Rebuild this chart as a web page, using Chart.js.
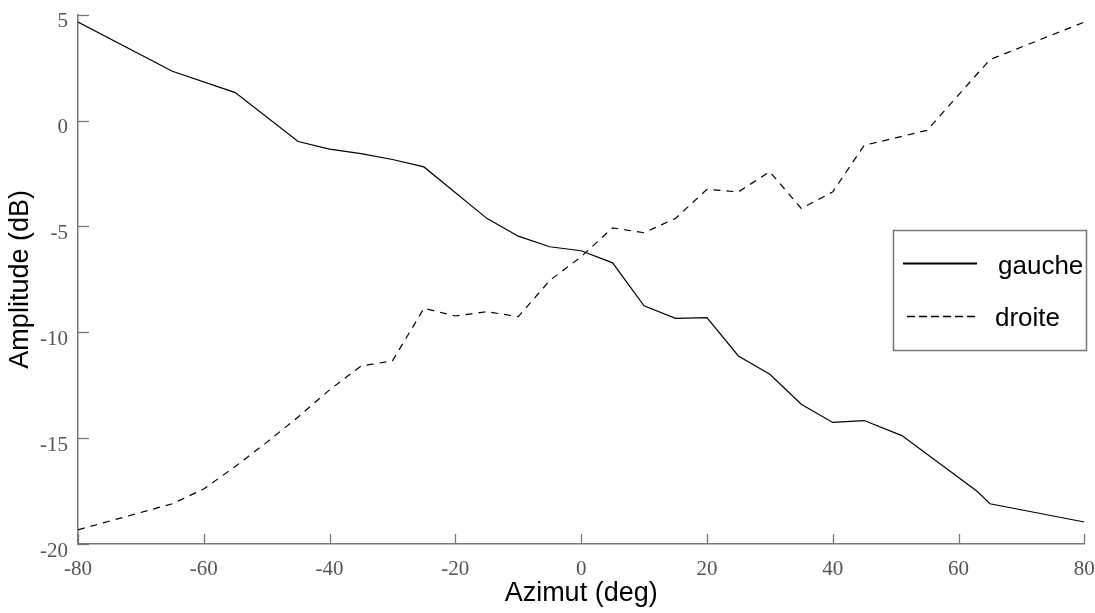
<!DOCTYPE html>
<html>
<head>
<meta charset="utf-8">
<script src="https://cdn.jsdelivr.net/npm/chart.js@4.4.1/dist/chart.umd.min.js"></script>
<style>
  html, body { margin: 0; padding: 0; background: #ffffff; }
  canvas { display: block; }
</style>
</head>
<body>
<canvas id="c" width="1095" height="613"></canvas>
<script>
// ---- data ----
const gaucheAzimut = [-80, -65, -55, -45, -40, -35, -30, -25, -15, -10, -5, 0, 5, 10, 15, 20, 25, 30, 35, 40, 45, 51, 63, 65, 80];
const gaucheDb     = [4.65, 2.33, 1.32, -0.99, -1.35, -1.56, -1.84, -2.19, -4.62, -5.46, -5.96, -6.15, -6.72, -8.75, -9.34, -9.31, -11.12, -11.98, -13.4, -14.26, -14.17, -14.88, -17.52, -18.1, -18.96];

const droiteAzimut = [-80, -65, -60, -55, -50, -45, -40, -35, -30, -25, -20, -15, -10, -5, 0, 5, 10, 15, 20, 25, 30, 35, 40, 45, 50, 55, 65, 80];
const droiteDb     = [-19.33, -18.1, -17.4, -16.34, -15.2, -14.0, -12.72, -11.59, -11.35, -8.87, -9.23, -9.03, -9.26, -7.56, -6.43, -5.07, -5.3, -4.62, -3.25, -3.37, -2.42, -4.15, -3.37, -1.17, -0.82, -0.46, 2.88, 4.65];

const seriesLabels = ['gauche', 'droite'];
const xTitle = 'Azimut (deg)';
const yTitle = 'Amplitude (dB)';
const xRange = [-80, 80];
const yRange = [-20, 5];
const xStep = 20;
const yStep = 5;

const toPoints = (xs, ys) => xs.map((x, i) => ({ x: x, y: ys[i] }));

const AXIS_COLOR = '#777777';

function zeroPadding(s) {
  s.paddingTop = 0; s.paddingBottom = 0; s.paddingLeft = 0; s.paddingRight = 0;
}

// inward tick marks drawn from the scales
const inwardTicks = {
  id: 'inwardTicks',
  afterDatasetsDraw(chart) {
    const ctx = chart.ctx;
    const xs = chart.scales.x, ys = chart.scales.y;
    const area = chart.chartArea;
    ctx.save();
    ctx.strokeStyle = AXIS_COLOR;
    ctx.lineWidth = 1.3;
    xs.ticks.forEach(t => {
      const px = Math.round(xs.getPixelForValue(t.value)) + 0.5;
      ctx.beginPath();
      ctx.moveTo(px, area.bottom);
      ctx.lineTo(px, area.bottom - 10);
      ctx.stroke();
    });
    ys.ticks.forEach(t => {
      const py = Math.round(ys.getPixelForValue(t.value)) + 0.5;
      ctx.beginPath();
      ctx.moveTo(area.left, py);
      ctx.lineTo(area.left + 11, py);
      ctx.stroke();
    });
    ctx.restore();
  }
};

// boxed legend inside the plot
const boxLegend = {
  id: 'boxLegend',
  afterDraw(chart) {
    const ctx = chart.ctx;
    const box = { x: 893.5, y: 230.5, w: 193, h: 120 };
    ctx.save();
    ctx.fillStyle = '#ffffff';
    ctx.fillRect(box.x, box.y, box.w, box.h);
    ctx.strokeStyle = AXIS_COLOR;
    ctx.lineWidth = 1.5;
    ctx.strokeRect(box.x, box.y, box.w, box.h);

    const rows = [
      { y: 263.5, x1: 903, x2: 977, tx: 998, base: 274, dash: [], lw: 2 },
      { y: 316.5, x1: 907, x2: 977, tx: 995, base: 325.5, dash: [8, 4], lw: 1.3 }
    ];
    chart.data.datasets.forEach((ds, i) => {
      const r = rows[i];
      ctx.strokeStyle = ds.borderColor;
      ctx.lineWidth = r.lw;
      ctx.setLineDash(r.dash);
      ctx.beginPath();
      ctx.moveTo(r.x1, r.y);
      ctx.lineTo(r.x2, r.y);
      ctx.stroke();
      ctx.setLineDash([]);
      ctx.fillStyle = '#000000';
      ctx.font = '26px "Liberation Sans", Arial, sans-serif';
      ctx.textAlign = 'left';
      ctx.textBaseline = 'alphabetic';
      ctx.fillText(ds.label, r.tx, r.base);
    });
    ctx.restore();
  }
};

new Chart(document.getElementById('c'), {
  type: 'line',
  data: {
    datasets: [
      {
        label: seriesLabels[0],
        data: toPoints(gaucheAzimut, gaucheDb),
        borderColor: '#000000',
        borderWidth: 1.2,
        pointRadius: 0,
        tension: 0,
        fill: false
      },
      {
        label: seriesLabels[1],
        data: toPoints(droiteAzimut, droiteDb),
        borderColor: '#000000',
        borderWidth: 1.2,
        borderDash: [7, 6],
        pointRadius: 0,
        tension: 0,
        fill: false
      }
    ]
  },
  options: {
    responsive: false,
    animation: false,
    devicePixelRatio: 1,
    layout: { padding: { left: 0, right: 10.7, top: 14.7, bottom: 0 } },
    plugins: {
      legend: { display: false },
      tooltip: { enabled: false }
    },
    scales: {
      x: {
        type: 'linear',
        min: xRange[0],
        max: xRange[1],
        afterFit: s => { s.height = 69; zeroPadding(s); },
        grid: { display: false, drawTicks: false },
        border: { display: true, color: AXIS_COLOR, width: 1.5 },
        ticks: {
          stepSize: xStep,
          padding: 12.6,
          color: '#555555',
          font: { family: '"Liberation Serif", "Times New Roman", serif', size: 21 },
          maxRotation: 0,
          autoSkip: false
        },
        title: {
          display: true,
          text: xTitle,
          color: '#000000',
          font: { family: '"Liberation Sans", Arial, sans-serif', size: 27 },
          padding: { top: 0, bottom: 3 }
        }
      },
      y: {
        type: 'linear',
        min: yRange[0],
        max: yRange[1],
        afterFit: s => { s.width = 78; zeroPadding(s); },
        grid: { display: false, drawTicks: false },
        border: { display: true, color: AXIS_COLOR, width: 1.5 },
        ticks: {
          stepSize: yStep,
          padding: 10,
          labelOffset: 7,
          color: '#555555',
          font: { family: '"Liberation Serif", "Times New Roman", serif', size: 21 },
          autoSkip: false
        },
        title: {
          display: true,
          text: yTitle,
          color: '#000000',
          font: { family: '"Liberation Sans", Arial, sans-serif', size: 27 },
          padding: { top: 4, bottom: 0 }
        }
      }
    }
  },
  plugins: [inwardTicks, boxLegend]
});
</script>
</body>
</html>
